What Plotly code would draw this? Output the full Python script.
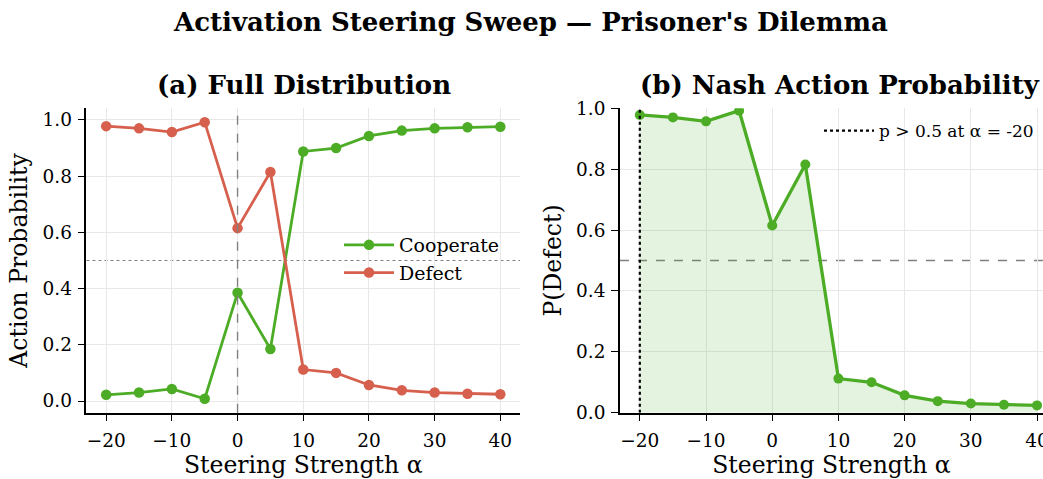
import plotly.graph_objects as go

alphas = [-20, -15, -10, -5, 0, 5, 10, 15, 20, 25, 30, 35, 40]
p_defect = [0.978, 0.970, 0.957, 0.992, 0.615, 0.815, 0.112, 0.100, 0.057, 0.038, 0.030, 0.026, 0.024]
p_cooperate = [0.022, 0.030, 0.043, 0.008, 0.385, 0.185, 0.888, 0.900, 0.943, 0.962, 0.970, 0.974, 0.976]
x_ticks = [-20, -10, 0, 10, 20, 30, 40]
y_ticks = [0.0, 0.2, 0.4, 0.6, 0.8, 1.0]

GREEN = "#4dac26"
RED = "#d6604d"
FONT = "DejaVu Serif"

threshold_alpha = next(a for a, p in zip(alphas, p_defect) if p > 0.5)

fig = go.Figure()

# Panel (a)
fig.add_trace(go.Scatter(x=alphas, y=p_cooperate, mode="lines+markers", name="Cooperate",
                         line=dict(color=GREEN, width=2.8), marker=dict(color=GREEN, size=10.5),
                         xaxis="x", yaxis="y", legend="legend"))
fig.add_trace(go.Scatter(x=alphas, y=p_defect, mode="lines+markers", name="Defect",
                         line=dict(color=RED, width=2.8), marker=dict(color=RED, size=10.5),
                         xaxis="x", yaxis="y", legend="legend"))

# Panel (b)
fig.add_trace(go.Scatter(x=alphas, y=p_defect, mode="lines+markers", name="P(Defect)",
                         line=dict(color=GREEN, width=3.3), marker=dict(color=GREEN, size=10),
                         fill="tozeroy", fillcolor="rgba(77,172,38,0.15)",
                         xaxis="x2", yaxis="y2", showlegend=False))
fig.add_trace(go.Scatter(x=[threshold_alpha, threshold_alpha], y=[0, 1], mode="lines",
                         name=f"p > 0.5 at α = {threshold_alpha}",
                         line=dict(color="black", width=2.2, dash="dot"),
                         xaxis="x2", yaxis="y2", legend="legend2"))

axis_common = dict(showline=True, linecolor="black", linewidth=1.5, mirror=False,
                   ticks="outside", ticklen=7, tickwidth=1.4, tickcolor="black",
                   showgrid=True, gridcolor="#e8e8e8", gridwidth=1, zeroline=False,
                   automargin=False, ticklabeloverflow="allow",
                   tickfont=dict(family=FONT, size=18.5, color="black"))

fig.update_layout(
    width=1043, height=479,
    margin=dict(l=0, r=0, t=0, b=0),
    paper_bgcolor="white", plot_bgcolor="white",
    font=dict(family=FONT, color="black"),
    xaxis=dict(domain=[0.0829, 0.4986], range=[-23, 43], tickvals=x_ticks, ticklabelstandoff=3,
               title=dict(text="Steering Strength α", font=dict(size=23.5), standoff=6),
               anchor="y", **axis_common),
    yaxis=dict(domain=[0.1384, 0.774], range=[-0.0416, 1.0416], tickvals=y_ticks,
               tickformat=".1f", ticklabelstandoff=2,
               title=dict(text="Action Probability", font=dict(size=23.5), standoff=8),
               anchor="x", **axis_common),
    xaxis2=dict(domain=[0.5944, 1.0], range=[-23, 40.9], tickvals=x_ticks, ticklabelstandoff=3,
                title=dict(text="Steering Strength α", font=dict(size=23.5), standoff=6),
                anchor="y2", **axis_common),
    yaxis2=dict(domain=[0.1384, 0.774], range=[0, 1], tickvals=y_ticks,
                tickformat=".1f", ticklabelstandoff=2,
                title=dict(text="P(Defect)", font=dict(size=23.5), standoff=8),
                anchor="x2", **axis_common),
    legend=dict(x=0.325, y=1 - 259/479, xanchor="left", yanchor="middle", bgcolor="rgba(0,0,0,0)",
                font=dict(family=FONT, size=19), itemwidth=50, tracegroupgap=0),
    legend2=dict(x=819/1043, y=1 - 131/479, xanchor="left", yanchor="middle", bgcolor="rgba(0,0,0,0)",
                 font=dict(family=FONT, size=17), itemwidth=50),
    shapes=[
        dict(type="line", xref="x", yref="y domain", x0=0, x1=0, y0=0, y1=1,
             line=dict(color="#808080", width=1.4, dash="dash"), layer="above"),
        dict(type="line", xref="x domain", yref="y", x0=0, x1=1, y0=0.5, y1=0.5,
             line=dict(color="#808080", width=1.2, dash="dot"), layer="below"),
        dict(type="line", xref="x2 domain", yref="y2", x0=0, x1=1, y0=0.5, y1=0.5,
             line=dict(color="#808080", width=1.4, dash="dash"), layer="below"),
    ],
    annotations=[
        dict(text="<b>Activation Steering Sweep — Prisoner's Dilemma</b>", x=530/1043, y=1 - 22/479,
             xref="paper", yref="paper", showarrow=False, xanchor="center", yanchor="middle",
             font=dict(family=FONT, size=26)),
        dict(text="<b>(a) Full Distribution</b>", x=303.5/1043, y=1 - 85/479,
             xref="paper", yref="paper", showarrow=False, xanchor="center", yanchor="middle",
             font=dict(family=FONT, size=26)),
        dict(text="<b>(b) Nash Action Probability</b>", x=840/1043, y=1 - 85/479,
             xref="paper", yref="paper", showarrow=False, xanchor="center", yanchor="middle",
             font=dict(family=FONT, size=26)),
    ],
)

fig.write_html("out.html")
